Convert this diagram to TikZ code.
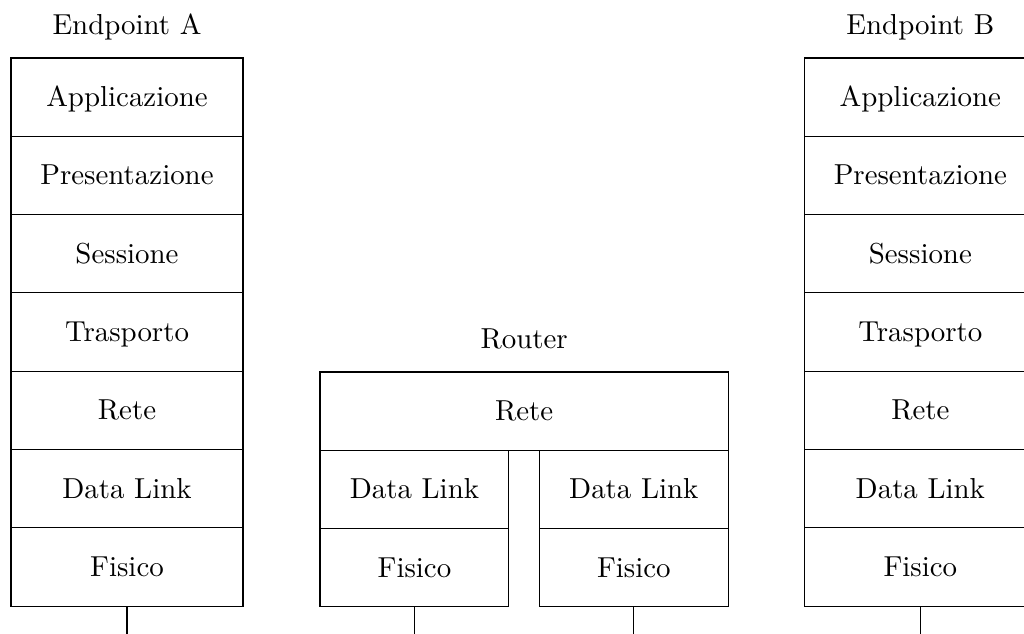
\documentclass[tikz,border=0pt]{standalone}
\usepackage{tikz}
\tikzstyle{layer}=[rectangle,draw=black,outer sep=0pt,minimum width=2.963cm,minimum height=1cm,
text height=1.6ex,text depth=0pt]
\tikzstyle{wlayer}=[layer,minimum width=5.214cm]
\tikzstyle{dlayer}=[layer,minimum width=2.412cm]
\tikzstyle{stacktitle}=[label={[anchor=base]above:#1}]
\usetikzlibrary{positioning}

\begin{document}
\begin{tikzpicture}[label distance=2.95mm, font=\fontsize{10.5}{12.6}\selectfont]
            \useasboundingbox (0,0) rectangle (13.078,-8.097);

            % Endpoint A PART

            \node[layer, anchor=north, stacktitle=Endpoint A] (a1) at (1.622,-0.741) {Applicazione};
            \node[layer, below=0pt of a1] (a2) {Presentazione};
            \node[layer, below=0pt of a2] (a3) {Sessione};
            \node[layer, below=0pt of a3] (a4) {Trasporto};
            \node[layer, below=0pt of a4] (a5) {Rete};
            \node[layer, below=0pt of a5] (a6) {Data Link};
            \node[layer, below=0pt of a6] (a7) {Fisico};
            \coordinate[below=0.6cm of a7] (aw);

            \draw (a7.south) -- (aw);

            % Router PART

            \node[wlayer, anchor=north west, stacktitle=Router] (r1) at (4.087,-4.751) {Rete};
            \node[dlayer, anchor=north west] (r2) at (r1.south west) {Data Link};
            \node[dlayer, below=0pt of r2] (r3) {Fisico};
            \node[dlayer, anchor=north east] (r4) at (r1.south east) {Data Link};
            \node[dlayer, below=0pt of r4] (r5) {Fisico};
            \coordinate[below=0.6cm of r3] (rw1);
            \coordinate[below=0.6cm of r5] (rw2);

            \draw (r3.south) -- (rw1);
            \draw (r5.south) -- (rw2);

            % Endpoint B PART

            \node[layer, anchor=north, stacktitle=Endpoint B] (b1) at (11.754,-0.741) {Applicazione};
            \node[layer, below=0pt of b1] (b2) {Presentazione};
            \node[layer, below=0pt of b2] (b3) {Sessione};
            \node[layer, below=0pt of b3] (b4) {Trasporto};
            \node[layer, below=0pt of b4] (b5) {Rete};
            \node[layer, below=0pt of b5] (b6) {Data Link};
            \node[layer, below=0pt of b6] (b7) {Fisico};
            \coordinate[below=0.6cm of b7] (bw);

            \draw (b7.south) -- (bw);

        \end{tikzpicture}
\end{document}
